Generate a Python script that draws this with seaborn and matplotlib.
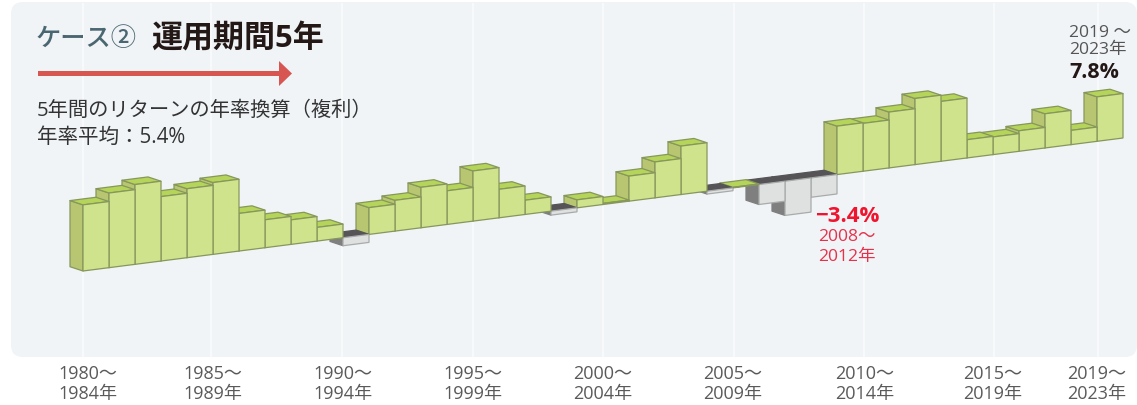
import numpy as np
import pandas as pd
import seaborn as sns
import matplotlib
matplotlib.use("Agg")
import matplotlib.pyplot as plt
from matplotlib.patches import FancyBboxPatch, Polygon
from matplotlib.transforms import Affine2D

# Annualised five-year returns (%), one per starting year 1980-2019
start_years = list(range(1980, 2020))
returns = [11.6, 13.1, 14.0, 11.3, 12.1, 12.6, 6.6, 4.9, 4.3, 2.4,
           -1.4, 4.7, 5.4, 7.1, 5.9, 8.8, 5.0, 2.5, -0.7, 1.4,
           0.2, 4.4, 6.3, 8.5, -0.5, 0.1, -3.5, -6.0, -3.4, 8.5,
           8.4, 9.8, 11.6, 10.5, 3.2, 3.1, 3.6, 6.0, 2.5, 7.8]

tick_labels = ["1980～\n1984年", "1985～\n1989年", "1990～\n1994年",
               "1995～\n1999年", "2000～\n2004年", "2005～\n2009年",
               "2010～\n2014年", "2015～\n2019年", "2019～\n2023年"]
tick_slots = [0.2, 5.0, 10.0, 15.0, 20.0, 25.0, 30.05, 35.0, 39.0]
grid_slots = [0.0, 4.92, 9.95, 15.0, 20.0, 25.03, 30.03, 35.03, 39.03]

sns.set_theme(style="white")
plt.rcParams["font.family"] = ["Open Sans", "Noto Sans CJK JP", "DejaVu Sans"]

W, H = 1137, 405
fig = plt.figure(figsize=(W / 100, H / 100), dpi=100, facecolor="white")
to_fig = Affine2D().scale(1 / W, -1 / H).translate(0, 1) + fig.transFigure

# Rounded backdrop
fig.patches.append(FancyBboxPatch((23, 14), 1102, 331,
                                  boxstyle="round,pad=12,rounding_size=12",
                                  transform=to_fig, facecolor="#f0f4f7",
                                  edgecolor="none", figure=fig, zorder=-1))

# Panel axes: one x unit is one bar, one y unit is one percentage point
left, right, top, bottom = 11, 1137, 3, 357
ax = fig.add_axes([left / W, 1 - bottom / H, (right - left) / W, (bottom - top) / H])
ax.patch.set_alpha(0)

PX_PER_BAR, PX_PER_PCT = 26.0, 5.7
ORIGIN_X, ORIGIN_Y = 83.0, 271.0
RISE_PER_BAR = 3.325

frame = pd.DataFrame({"slot": np.arange(len(returns)) + 0.5, "ret": returns})
frame["sign"] = np.where(frame["ret"] >= 0, "up", "down")
sns.barplot(data=frame, x="slot", y="ret", hue="sign", native_scale=True,
            palette={"up": "#cfe28c", "down": "#dfe0e0"}, width=1.0, dodge=False,
            legend=False, ax=ax, saturation=1)

ax.set_xlim((left - ORIGIN_X) / PX_PER_BAR, (right - ORIGIN_X) / PX_PER_BAR)
ax.set_ylim((ORIGIN_Y - bottom) / PX_PER_PCT, (ORIGIN_Y - top) / PX_PER_PCT)

# Shear the whole chart so the zero line climbs from left to right
k = RISE_PER_BAR / PX_PER_PCT
shear = Affine2D(np.array([[1, 0, 0], [k, 1, 0], [0, 0, 1]])) + ax.transData

depth_x = -0.5
depth_y = 4.3 / PX_PER_PCT - depth_x * k

styles = {True: dict(front="#cfe28c", top="#b5d45a", side="#b8c672", edge="#87975c"),
          False: dict(front="#dfe0e0", top="#565456", side="#7f7f7f", edge="#a9abab")}

n = len(returns)
for bar in list(ax.patches):
    x0, x1 = bar.get_x(), bar.get_x() + bar.get_width()
    y0, y1 = sorted((bar.get_y(), bar.get_y() + bar.get_height()))
    rising = y1 > 0
    st = styles[rising]
    # Bars further right sit behind their left-hand neighbours
    order = 10 + (n - x0)
    side = [(x0, y0), (x0, y1), (x0 + depth_x, y1 + depth_y), (x0 + depth_x, y0 + depth_y)]
    lid = [(x0, y1), (x1, y1), (x1 + depth_x, y1 + depth_y), (x0 + depth_x, y1 + depth_y)]
    ax.add_patch(Polygon(side, closed=True, transform=shear, facecolor=st["side"],
                         edgecolor=st["edge"] if rising else st["side"], linewidth=0.9,
                         zorder=order, joinstyle="round"))
    ax.add_patch(Polygon(lid, closed=True, transform=shear, facecolor=st["top"],
                         edgecolor=st["edge"] if rising else st["top"], linewidth=0.9,
                         zorder=order + 0.1, joinstyle="round"))
    bar.set_transform(shear)
    bar.set_edgecolor(st["edge"])
    bar.set_linewidth(0.9)
    bar.set_zorder(order + 0.2)

# White guides behind the bars, period labels under the panel
ax.vlines(grid_slots, 0, 1, transform=ax.get_xaxis_transform(), color="white",
          linewidth=1.1, alpha=0.7, zorder=1)
ax.set_xticks(tick_slots)
ax.set_xticklabels(tick_labels, fontsize=13, color="#5a5a5a", linespacing=1.16)
ax.set_yticks([])
ax.set_xlabel("")
ax.set_ylabel("")
ax.tick_params(axis="x", length=0, pad=5.5)
sns.despine(ax=ax, left=True, bottom=True)

# Headline block
def put(x, y, text, **kw):
    fig.text(x, y, text, transform=to_fig, va="center", **kw)

put(36, 40, "ケース②", fontsize=18.2, color="#4a6670", fontweight="medium")
put(151, 39, "運用期間5年", fontsize=22.3, color="#231815", fontweight="bold")
fig.patches.append(Polygon([(38, 71), (279, 71), (279, 61), (292, 73.5), (279, 86),
                            (279, 76), (38, 76)], closed=True, transform=to_fig,
                           facecolor="#d85652", edgecolor="none", figure=fig, zorder=1))
put(37, 111, "5年間のリターンの年率換算（複利）", fontsize=14.6, color="#333333")
put(37, 137, "年率平均：5.4%", fontsize=14.8, color="#333333")

# Callouts for the latest and the labelled weak period
put(1069, 33, "2019 ～", fontsize=12.6, color="#555555")
put(1069, 50, "2023年", fontsize=12.6, color="#555555")
put(1069, 73, "7.8%", fontsize=15.5, color="#231815", fontweight="bold")
put(815, 216, "−3.4%", fontsize=16, color="#f0142f", fontweight="bold")
put(818, 237, "2008～", fontsize=12.6, color="#e8304a")
put(818, 257, "2012年", fontsize=12.6, color="#e8304a")

fig.savefig("out.png", dpi=100)
